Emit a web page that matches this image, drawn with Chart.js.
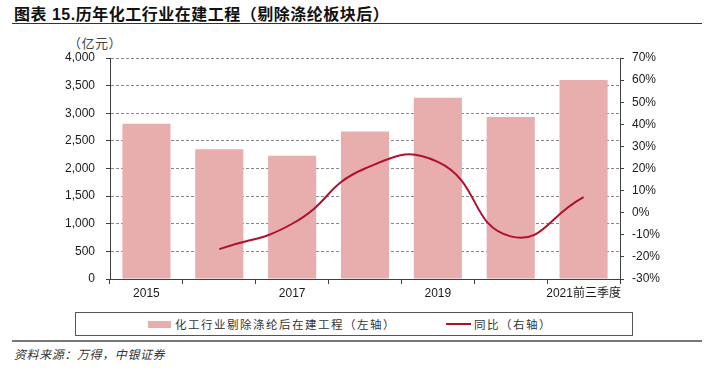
<!DOCTYPE html>
<html>
<head>
<meta charset="utf-8">
<script src="https://cdn.jsdelivr.net/npm/chart.js@4/dist/chart.umd.min.js"></script>
<style>
  html, body { margin: 0; padding: 0; background: #fff; }
  body { width: 714px; height: 370px; position: relative; overflow: hidden;
         font-family: "Liberation Sans", "Noto Sans CJK SC", sans-serif; color: #222; }
  .abs { position: absolute; white-space: nowrap; }
  #title { left: 14px; top: 1px; font-size: 16px; font-weight: bold; color: #111; letter-spacing: 0.5px; }
  #title-rule { left: 12px; top: 23px; width: 690px; height: 0; border-top: 1.5px solid #333; }
  #unit { left: 68px; top: 33px; font-size: 13px; color: #444; font-family: "Noto Sans CJK SC", sans-serif; letter-spacing: 0.5px; }
  #chart { position: absolute; left: 0; top: 0; }
  #legend { left: 75px; top: 312px; width: 556px; height: 22px; border: 1px solid #555; }
  .sw-bar { position: absolute; left: 72px; top: 8px; width: 23px; height: 7px; background: #e8adad; }
  .sw-line { position: absolute; left: 370px; top: 10px; width: 25px; height: 0; border-top: 2px solid #b0102e; }
  .lg-text { position: absolute; top: 3px; font-size: 11.5px; color: #333; letter-spacing: 1.5px;
             font-family: "Noto Sans CJK SC", sans-serif; }
  #bottom-rule { left: 12px; top: 340px; width: 690px; height: 0; border-top: 2px solid #777; }
  #source { left: 14px; top: 345px; font-size: 12px; font-style: italic; color: #333;
            font-family: "Noto Sans CJK SC", sans-serif; letter-spacing: 0.6px; }
</style>
</head>
<body>
<div id="title" class="abs">图表 15.历年化工行业在建工程（剔除涤纶板块后）</div>
<div id="title-rule" class="abs"></div>
<div id="unit" class="abs">（亿元）</div>
<canvas id="chart" width="714" height="305"></canvas>
<div id="legend" class="abs">
  <div class="sw-bar"></div>
  <div class="lg-text" style="left:99px">化工行业剔除涤纶后在建工程（左轴）</div>
  <div class="sw-line"></div>
  <div class="lg-text" style="left:398px">同比（右轴）</div>
</div>
<div id="bottom-rule" class="abs"></div>
<div id="source" class="abs">资料来源：万得，中银证券</div>

<script>
// categories and values
const years = ['2015', '2016', '2017', '2018', '2019', '2020', '2021前三季度'];
const constructionInProgress = [2810, 2350, 2230, 2670, 3280, 2930, 3600];   // 亿元, left axis
const yoyChange = [null, -16.5, -5, 20, 23, -10.7, 7];                        // %, right axis

const axisColor = '#404040';
Chart.defaults.font.family = '"Liberation Sans", "Noto Sans CJK SC", sans-serif';
Chart.defaults.font.size = 12;
Chart.defaults.color = '#1a1a1a';

const ctx = document.getElementById('chart').getContext('2d');
new Chart(ctx, {
    type: 'bar',
    data: {
        labels: years,
        datasets: [{
            type: 'line',
            label: '同比（右轴）',
            data: yoyChange,
            yAxisID: 'y1',
            borderColor: '#b0102e',
            borderWidth: 2,
            pointRadius: 0,
            tension: 0.5,
            order: 0
        }, {
            label: '化工行业剔除涤纶后在建工程（左轴）',
            data: constructionInProgress,
            yAxisID: 'y',
            backgroundColor: '#e8adad',
            categoryPercentage: 1,
            barPercentage: 0.66,
            order: 1
        }]
    },
    options: {
        responsive: false,
        animation: false,
        devicePixelRatio: 1,
        layout: { padding: { top: 58, left: 0, right: 0, bottom: 0 } },
        plugins: { legend: { display: false }, tooltip: { enabled: false } },
        scales: {
            x: {
                afterFit: (scale) => { scale.height = 26; },
                grid: { offset: true, drawOnChartArea: false, tickLength: 5, tickColor: axisColor },
                border: { color: axisColor },
                ticks: {
                    autoSkip: false, maxRotation: 0, padding: 2,
                    callback: (v, i) => (i % 2 === 0 ? years[i] : '')
                }
            },
            y: {
                position: 'left',
                min: 0, max: 4000,
                afterFit: (scale) => { scale.width = 110; },
                grid: {
                    color: (c) => (c.tick && c.tick.value === 0 ? 'rgba(0,0,0,0)' : '#8a8a8a'),
                    tickColor: axisColor, tickLength: 4, tickBorderDash: []
                },
                border: { color: axisColor, dash: [3, 2] },
                ticks: {
                    stepSize: 500, padding: 11,
                    callback: (v) => v.toLocaleString('en-US')
                }
            },
            y1: {
                position: 'right',
                min: -30, max: 70,
                afterFit: (scale) => { scale.width = 94; },
                grid: { drawOnChartArea: false, tickColor: axisColor, tickLength: 4 },
                border: { color: axisColor },
                ticks: { stepSize: 10, padding: 8, callback: (v) => v + '%' }
            }
        }
    }
});
</script>
</body>
</html>
